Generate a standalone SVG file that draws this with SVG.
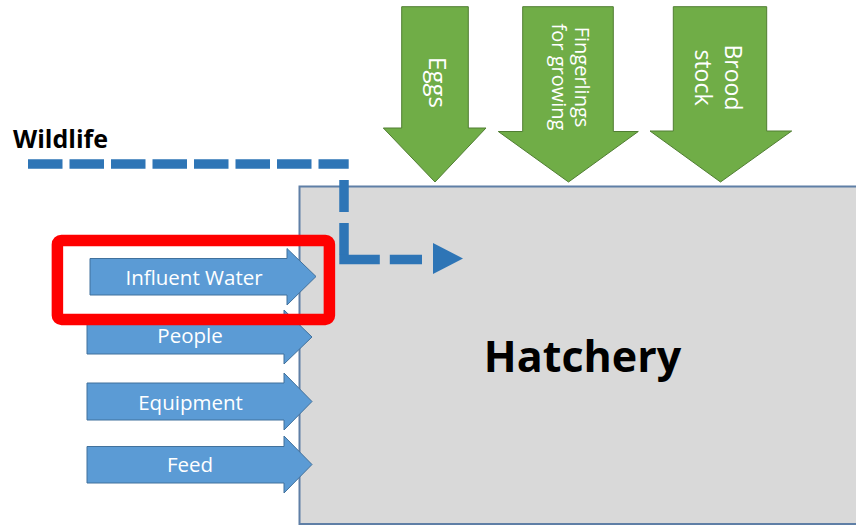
<svg xmlns="http://www.w3.org/2000/svg" width="856" height="526" viewBox="0 0 856 526">
  <style>
    .blue { fill: #5b9bd5; stroke: #41719c; stroke-width: 1; }
    .green { fill: #70ad47; stroke: #507e32; stroke-width: 1; }
    .lbl { font-family: "Open Sans", "Noto Sans", sans-serif; fill: #ffffff; text-anchor: middle; }
    .dash { fill: none; stroke: #2e75b6; stroke-width: 9.5; }
  </style>
  <rect width="856" height="526" fill="#ffffff"/>

  <g id="hatchery">
    <rect x="299.5" y="186.5" width="600" height="337.5" fill="#d9d9d9" stroke="#5f7fa6" stroke-width="2"/>
    <text x="582.5" y="372" font-family="'Open Sans', 'Noto Sans', sans-serif" font-weight="bold" font-size="43" fill="#000000" text-anchor="middle">Hatchery</text>
  </g>

  <g id="eggs">
    <polygon class="green" points="401.7,6.7 468.3,6.7 468.3,128 486,128 435,182 383.3,128 401.7,128"/>
    <text class="lbl" font-size="24" transform="translate(429,82.5) rotate(90)">Eggs</text>
  </g>

  <g id="fingerlings">
    <polygon class="green" points="522.7,6.7 613.3,6.7 613.3,131.5 638.3,131.5 568.5,182 498.3,131.5 522.7,131.5"/>
    <text class="lbl" font-size="20" transform="translate(574.5,77) rotate(90)">Fingerlings</text>
    <text class="lbl" font-size="20" transform="translate(551.5,77) rotate(90)">for growing</text>
  </g>

  <g id="broodstock">
    <polygon class="green" points="673.3,6.7 766.7,6.7 766.7,131 791.7,131 720.5,182 650,131 673.3,131"/>
    <text class="lbl" font-size="23" transform="translate(725,77.5) rotate(90)">Brood</text>
    <text class="lbl" font-size="23" transform="translate(695,77.5) rotate(90)">stock</text>
  </g>

  <g id="influent-water">
    <polygon class="blue" points="90,258.5 287,258.5 287,248.5 316,276.5 287,305 287,295 90,295"/>
    <text class="lbl" font-size="20.5" x="194" y="285">Influent Water</text>
  </g>

  <g id="people">
    <polygon class="blue" points="87,320 284,320 284,310 312,337 284,364 284,354 87,354"/>
    <text class="lbl" font-size="20.5" x="190" y="343">People</text>
  </g>

  <g id="equipment">
    <polygon class="blue" points="87,383 284,383 284,373 312,401.5 284,430 284,420 87,420"/>
    <text class="lbl" font-size="20.5" x="190.5" y="410">Equipment</text>
  </g>

  <g id="feed">
    <polygon class="blue" points="87,446.5 284,446.5 284,436 312,464.5 284,493 284,483 87,483"/>
    <text class="lbl" font-size="20.5" x="190" y="471.5">Feed</text>
  </g>

  <g id="wildlife">
    <text x="13" y="148" font-family="'Open Sans', 'Noto Sans', sans-serif" font-weight="bold" font-size="25" fill="#000000">Wildlife</text>
  </g>

  <g id="connectors">
    <path class="dash" d="M28,164 H348.7" stroke-dasharray="34.5 7"/>
    <path class="dash" d="M344,180 V255" stroke-dasharray="32 11"/>
    <path class="dash" d="M339.3,259.5 H422" stroke-dasharray="40.5 10"/>
    <polygon points="433,243 463,258.5 433,274" fill="#2e75b6"/>
  </g>

  <g id="highlight">
    <rect x="57.4" y="240.4" width="272" height="79" rx="4" fill="none" stroke="#ff0000" stroke-width="11.5"/>
  </g>
</svg>
